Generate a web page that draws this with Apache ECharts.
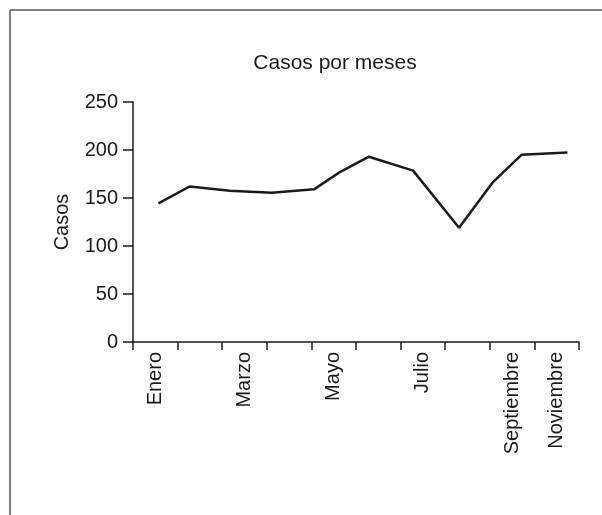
<!DOCTYPE html>
<html>
<head>
<meta charset="utf-8">
<script src="https://cdn.jsdelivr.net/npm/echarts@6/dist/echarts.min.js"></script>
<style>
html,body{margin:0;padding:0;background:#fff;}
#c{width:602px;height:515px;}
</style>
</head>
<body>
<div id="c"></div>
<script>
// Data
var meses = ['Enero','Febrero','Marzo','Abril','Mayo','Junio','Julio','Agosto','Septiembre','Octubre','Noviembre','Diciembre'];
var xPos = [0.57, 1.27, 2.17, 3.11, 4.06, 4.64, 5.29, 6.28, 7.31, 8.06, 8.71, 9.74];
var casos = [144.5, 162, 157.5, 155.5, 159, 177, 193, 178.5, 119, 166, 195, 197.5];
var tickLabels = ['Enero','','Marzo','','Mayo','','Julio','','Septiembre','Noviembre'];
var yTicks = [0, 50, 100, 150, 200, 250];

var font = 'Liberation Sans, Arial, Helvetica, sans-serif';
var pts = xPos.map(function(x, i){ return [x, casos[i], meses[i]]; });

var chart = echarts.init(document.getElementById('c'), null, {renderer:'canvas'});
chart.setOption({
  animation: false,
  backgroundColor: '#fff',
  title: {
    text: 'Casos por meses',
    left: 330, top: 48, textAlign: 'center',
    textStyle: {fontFamily: font, fontSize: 21, fontWeight: 'normal', color: '#1a1a1a'}
  },
  grid: {left: 133, right: 23, top: 102, bottom: 173, containLabel: false},
  xAxis: [{
    type: 'value', min: 0, max: tickLabels.length, interval: 1,
    axisLine: {show: true, lineStyle: {color: '#1a1a1a', width: 1.5}},
    axisTick: {show: true, length: 8, lineStyle: {color: '#1a1a1a', width: 1.5}},
    axisLabel: {show: false},
    splitLine: {show: false}
  }, {
    type: 'category', position: 'bottom', data: tickLabels, boundaryGap: true,
    axisLine: {show: false}, axisTick: {show: false},
    axisLabel: {show: true, interval: 0, rotate: 90, margin: 10,
      fontFamily: font, fontSize: 20, color: '#1a1a1a'}
  }],
  yAxis: {
    type: 'value', min: yTicks[0], max: yTicks[yTicks.length-1], interval: 50,
    name: 'Casos', nameLocation: 'middle', nameGap: 61, nameRotate: 90,
    nameTextStyle: {fontFamily: font, fontSize: 20, color: '#1a1a1a'},
    axisLine: {show: true, lineStyle: {color: '#1a1a1a', width: 1.5}},
    axisTick: {show: true, length: 10, lineStyle: {color: '#1a1a1a', width: 1.5}},
    axisLabel: {margin: 15, fontFamily: font, fontSize: 20, color: '#1a1a1a'},
    splitLine: {show: false}
  },
  graphic: [
    {type: 'line', shape: {x1: 10, y1: 10, x2: 602, y2: 10}, style: {stroke: '#808080', lineWidth: 2}},
    {type: 'line', shape: {x1: 10, y1: 10, x2: 10, y2: 515}, style: {stroke: '#808080', lineWidth: 2}}
  ],
  series: [{
    type: 'line', xAxisIndex: 0, data: pts, showSymbol: false, symbol: 'none',
    lineStyle: {color: '#1a1a1a', width: 2.5}
  }]
});
</script>
</body>
</html>
